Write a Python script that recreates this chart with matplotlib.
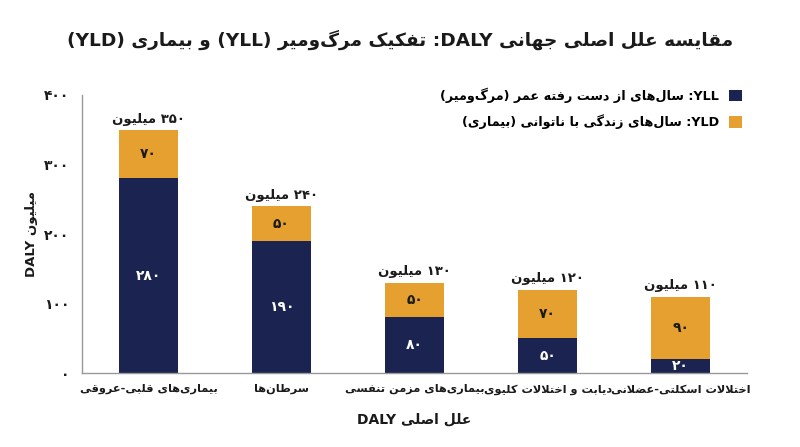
import matplotlib
matplotlib.use('Agg')
import matplotlib.pyplot as plt
from matplotlib.ticker import FixedLocator, FuncFormatter
import numpy as np

# data
categories = [
    "بیماری‌های قلبی-عروقی",
    "سرطان‌ها",
    "بیماری‌های مزمن تنفسی",
    "دیابت و اختلالات کلیوی",
    "اختلالات اسکلتی-عضلانی",
]
yll = [280, 190, 80, 50, 20]
yld = [70, 50, 50, 70, 90]
yticks = [0, 100, 200, 300, 400]

title = "مقایسه علل اصلی جهانی DALY: تفکیک مرگ‌ومیر (YLL) و بیماری (YLD)"
label_yll = "YLL: سال‌های از دست رفته عمر (مرگ‌ومیر)"
label_yld = "YLD: سال‌های زندگی با ناتوانی (بیماری)"
xlabel = "علل اصلی DALY"
ylabel = "میلیون DALY"
million = "میلیون"

NAVY = "#1b2450"
ORANGE = "#e5a030"
TEXT = "#1a1a1a"

# --- minimal Persian shaping + bidi (matplotlib has no text shaping) ---
FORMS = {
    '\u0627': (0xFE8D, 0xFE8E, None, None),
    '\u0628': (0xFE8F, 0xFE90, 0xFE91, 0xFE92),
    '\u062A': (0xFE95, 0xFE96, 0xFE97, 0xFE98),
    '\u062C': (0xFE9D, 0xFE9E, 0xFE9F, 0xFEA0),
    '\u062E': (0xFEA5, 0xFEA6, 0xFEA7, 0xFEA8),
    '\u062F': (0xFEA9, 0xFEAA, None, None),
    '\u0631': (0xFEAD, 0xFEAE, None, None),
    '\u0632': (0xFEAF, 0xFEB0, None, None),
    '\u0633': (0xFEB1, 0xFEB2, 0xFEB3, 0xFEB4),
    '\u0635': (0xFEB9, 0xFEBA, 0xFEBB, 0xFEBC),
    '\u0636': (0xFEBD, 0xFEBE, 0xFEBF, 0xFEC0),
    '\u0637': (0xFEC1, 0xFEC2, 0xFEC3, 0xFEC4),
    '\u0639': (0xFEC9, 0xFECA, 0xFECB, 0xFECC),
    '\u0641': (0xFED1, 0xFED2, 0xFED3, 0xFED4),
    '\u0642': (0xFED5, 0xFED6, 0xFED7, 0xFED8),
    '\u0644': (0xFEDD, 0xFEDE, 0xFEDF, 0xFEE0),
    '\u0645': (0xFEE1, 0xFEE2, 0xFEE3, 0xFEE4),
    '\u0646': (0xFEE5, 0xFEE6, 0xFEE7, 0xFEE8),
    '\u0647': (0xFEE9, 0xFEEA, 0xFEEB, 0xFEEC),
    '\u0648': (0xFEED, 0xFEEE, None, None),
    '\u06A9': (0xFB8E, 0xFB8F, 0xFB90, 0xFB91),
    '\u06AF': (0xFB92, 0xFB93, 0xFB94, 0xFB95),
    '\u06CC': (0xFBFC, 0xFBFD, 0xFBFE, 0xFBFF),
}
FA_DIGITS = "۰۱۲۳۴۵۶۷۸۹"


def dual(c):
    return c in FORMS and FORMS[c][2] is not None


def shape(text):
    out = []
    i = 0
    n = len(text)
    while i < n:
        c = text[i]
        prev = text[i - 1] if i > 0 else ''
        if c == '\u0644' and i + 1 < n and text[i + 1] == '\u0627':
            out.append('\uFEFC' if dual(prev) else '\uFEFB')
            i += 2
            continue
        if c in FORMS:
            nxt = text[i + 1] if i + 1 < n else ''
            p = dual(prev)
            q = dual(c) and nxt in FORMS
            iso, fin, ini, med = FORMS[c]
            if p and q:
                out.append(chr(med))
            elif p:
                out.append(chr(fin))
            elif q:
                out.append(chr(ini))
            else:
                out.append(chr(iso))
        elif c != '\u200c':
            out.append(c)
        i += 1
    return ''.join(out)


def ctype(ch):
    if ch in FA_DIGITS or ch.isdigit():
        return 'EN'
    if '\u0600' <= ch <= '\u06FF' or '\uFB50' <= ch <= '\uFEFF':
        return 'R'
    if ch.isalpha():
        return 'L'
    return 'N'


def fa(text):
    s = shape(text)
    types = [ctype(ch) for ch in s]
    levels = []
    for i, t in enumerate(types):
        if t == 'R':
            levels.append(1)
        elif t in ('L', 'EN'):
            levels.append(2)
        else:
            before = next((types[j] for j in range(i - 1, -1, -1) if types[j] != 'N'), 'R')
            after = next((types[j] for j in range(i + 1, len(s)) if types[j] != 'N'), 'R')
            levels.append(2 if before == 'L' and after == 'L' else 1)
    chars = list(s)
    i = 0
    while i < len(chars):
        if levels[i] == 2:
            j = i
            while j < len(chars) and levels[j] == 2:
                j += 1
            chars[i:j] = chars[i:j][::-1]
            levels[i:j] = levels[i:j][::-1]
            i = j
        else:
            i += 1
    mirror = {'(': ')', ')': '('}
    chars = [mirror.get(c, c) if lv == 1 else c for c, lv in zip(chars, levels)]
    return ''.join(chars[::-1])


def fa_num(v):
    return str(int(v)).translate(str.maketrans("0123456789", FA_DIGITS))


plt.rcParams['font.family'] = ['DejaVu Sans']
plt.rcParams['font.weight'] = 'bold'

fig = plt.figure(figsize=(8, 4.47), dpi=100)
ax = fig.add_axes([0.1025, 0.1655, 0.8315, 0.622])

x = np.arange(len(categories))
w = 0.44
ax.bar(x, yll, w, color=NAVY, label=fa(label_yll))
ax.bar(x, yld, w, bottom=yll, color=ORANGE, label=fa(label_yld))

for xi, a, b in zip(x, yll, yld):
    ax.text(xi, a / 2, fa_num(a), ha='center', va='center', color='white',
            fontsize=10, fontweight='bold')
    ax.text(xi, a + b / 2, fa_num(b), ha='center', va='center', color=TEXT,
            fontsize=10, fontweight='bold')
    ax.text(xi, a + b + 6, fa(fa_num(a + b) + " " + million), ha='center', va='bottom',
            color=TEXT, fontsize=9.5, fontweight='bold')

ax.set_xlim(-0.5, len(categories) - 0.5)
ax.set_ylim(0, 400)
ax.yaxis.set_major_locator(FixedLocator(yticks))
ax.yaxis.set_major_formatter(FuncFormatter(lambda v, p: fa_num(v)))
ax.set_xticks(x)
ax.set_xticklabels([fa(c) for c in categories], fontsize=8.2, fontweight='bold', color=TEXT)
ax.tick_params(axis='both', length=0, colors=TEXT)
ax.tick_params(axis='y', pad=9, labelsize=10)
ax.tick_params(axis='x', pad=8)

for s in ['top', 'right']:
    ax.spines[s].set_visible(False)
for s in ['left', 'bottom']:
    ax.spines[s].set_color('#999999')
    ax.spines[s].set_linewidth(1)

ax.set_xlabel(fa(xlabel), fontsize=10, fontweight='bold', color=TEXT, labelpad=13)
ax.set_ylabel(fa(ylabel), fontsize=9.5, fontweight='bold', color=TEXT, labelpad=4)

ax.legend(loc='upper right', bbox_to_anchor=(1.0, 1.045), frameon=False, markerfirst=False,
          fontsize=9.2, handlelength=1.0, handleheight=1.0, handletextpad=0.8,
          labelspacing=0.9, borderaxespad=0)

fig.text(0.5, 1 - 40 / 447, fa(title), ha='center', va='center', fontsize=13.3,
         fontweight='bold', color=TEXT)

fig.savefig('out.png', dpi=100, facecolor='white')
